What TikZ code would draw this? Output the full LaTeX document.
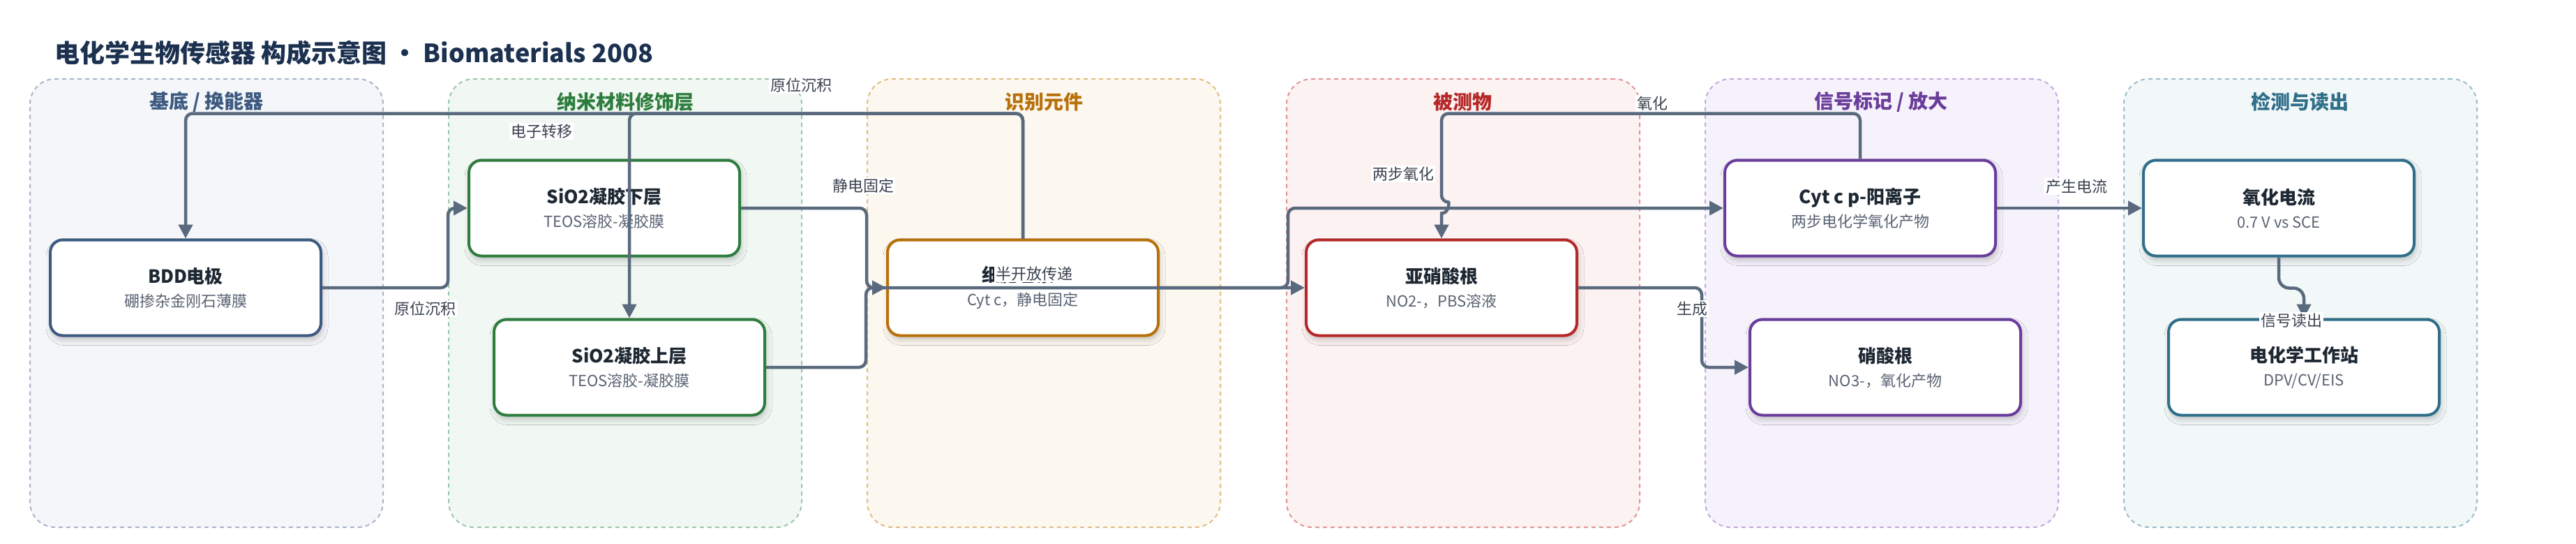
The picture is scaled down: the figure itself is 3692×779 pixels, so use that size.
\documentclass[tikz,border=0pt]{standalone}
\usepackage{fontspec}
\setmainfont{Noto Sans CJK SC}
\usetikzlibrary{arrows.meta,shadows.blur,calc}
\definecolor{titlec}{HTML}{1C3150}
\definecolor{edgec}{HTML}{5A6A7E}
\definecolor{lblc}{HTML}{3A4250}
\definecolor{ntc}{HTML}{1E2833}
\definecolor{nsc}{HTML}{5A6373}
\definecolor{cA}{HTML}{3D5A80}\definecolor{fA}{HTML}{F4F6FA}\definecolor{bA}{HTML}{AAB4C8}
\definecolor{cB}{HTML}{2E7D3E}\definecolor{fB}{HTML}{F1F8F3}\definecolor{bB}{HTML}{9CC8A8}
\definecolor{cC}{HTML}{B8700A}\definecolor{fC}{HTML}{FDF8EF}\definecolor{bC}{HTML}{E2BC80}
\definecolor{cD}{HTML}{B52828}\definecolor{fD}{HTML}{FDF2F2}\definecolor{bD}{HTML}{E29494}
\definecolor{cE}{HTML}{6A3D9A}\definecolor{fE}{HTML}{F6F2FB}\definecolor{bE}{HTML}{C2AADD}
\definecolor{cF}{HTML}{2F6F8A}\definecolor{fF}{HTML}{F2F7F8}\definecolor{bF}{HTML}{9ABDCB}
\newcommand\ntitle[1]{{\fontsize{26}{34}\selectfont\bfseries\color{ntc}#1}}
\newcommand\nsub[1]{{\color{nsc}#1}}
\begin{document}
\begin{tikzpicture}[x=1pt,y=-1pt,
  lanebox/.style={line width=2pt, dash pattern=on 6pt off 5pt, rounded corners=36pt,
    minimum width=506pt, minimum height=642pt, anchor=north west, inner sep=0pt},
  lanetitle/.style={font=\fontsize{28}{30}\selectfont\bfseries, inner sep=0pt},
  card/.style={draw, line width=4pt, fill=white, rounded corners=18pt,
    minimum width=388pt, minimum height=137pt, inner sep=0pt, align=center,
    font=\fontsize{22}{34}\selectfont,
    blur shadow={shadow xshift=2pt, shadow yshift=-6pt, shadow blur radius=8pt, shadow opacity=22}},
  edge/.style={draw=edgec, line width=4.5pt, rounded corners=10pt,
    -{Triangle[length=20pt,width=20pt]}},
  lbl/.style={fill=white, inner sep=2pt, font=\fontsize{22}{24}\selectfont, text=lblc}
]
\useasboundingbox (0,0) rectangle (3692,779);
\fill[white] (0,0) rectangle (3692,779);

% lanes
\node[lanebox, draw=bA, fill=fA] (lane1) at (42,112) {};
\node[lanebox, draw=bB, fill=fB] (lane2) at (642,112) {};
\node[lanebox, draw=bC, fill=fC] (lane3) at (1242,112) {};
\node[lanebox, draw=bD, fill=fD] (lane4) at (1843,112) {};
\node[lanebox, draw=bE, fill=fE] (lane5) at (2443,112) {};
\node[lanebox, draw=bF, fill=fF] (lane6) at (3043,112) {};

\node[lanetitle, text=cA] (t1) at (296,146) {基底 / 换能器};
\node[lanetitle, text=cB] (t2) at (896,146) {纳米材料修饰层};
\node[lanetitle, text=cC] (t3) at (1496,146) {识别元件};
\node[lanetitle, text=cD] (t4) at (2096,146) {被测物};
\node[lanetitle, text=cE] (t5) at (2696,146) {信号标记 / 放大};
\node[lanetitle, text=cF] (t6) at (3296,146) {检测与读出};

% title
\node[anchor=west, inner sep=0pt, font=\fontsize{36}{40}\selectfont\bfseries, text=titlec] (title) at (78,76)
  {电化学生物传感器 构成示意图 · Biomaterials 2008};

% nodes
\node[card, draw=cA] (bdd) at (266,412) {\ntitle{BDD电极}\\\nsub{硼掺杂金刚石薄膜}};
\node[card, draw=cB] (sioL) at (866,298) {\ntitle{SiO2凝胶下层}\\\nsub{TEOS溶胶-凝胶膜}};
\node[card, draw=cB] (sioU) at (902,526) {\ntitle{SiO2凝胶上层}\\\nsub{TEOS溶胶-凝胶膜}};
\node[card, draw=cC] (cytc) at (1466,412) {\ntitle{细胞色素c}\\\nsub{Cyt c，静电固定}};
\node[card, draw=cD] (nitrite) at (2066,412) {\ntitle{亚硝酸根}\\\nsub{NO2-，PBS溶液}};
\node[card, draw=cE] (cytcp) at (2666,298) {\ntitle{Cyt c p-阳离子}\\\nsub{两步电化学氧化产物}};
\node[card, draw=cE] (nitrate) at (2702,526) {\ntitle{硝酸根}\\\nsub{NO3-，氧化产物}};
\node[card, draw=cF] (current) at (3266,298) {\ntitle{氧化电流}\\\nsub{0.7 V vs SCE}};
\node[card, draw=cF] (station) at (3302,526) {\ntitle{电化学工作站}\\\nsub{DPV/CV/EIS}};

% edges
\draw[edge] (bdd.east) -- ++(180,0) |- (sioL.west);
\draw[edge] (sioL.east) -- ++(180,0) |- (cytc.west);
\draw[edge] (sioU.east) -- ++(143,0) |- (nitrite.west);
\draw[edge] (cytc.east) -- ++(184,0) |- (cytcp.west);
\draw[edge] (cytc.north) -- ++(0,-179) -| (bdd.north);
\draw[edge] (cytc.north) -- ++(0,-179) -| (sioU.north);
\coordinate (hopA) at ($(nitrite.north)+(0,-52)$);
\coordinate (hopB) at ($(nitrite.north)+(0,-36)$);
\draw[edge] (cytcp.north) -- ++(0,-65) -| (hopA) [sharp corners]
  .. controls ($(hopA)+(11,0)$) and ($(hopB)+(11,0)$) .. (hopB) -- (nitrite.north);
\draw[edge] (nitrite.east) -- ++(177,0) |- (nitrate.west);
\draw[edge] (cytcp.east) -- (current.west);
\draw[edge, rounded corners=15pt] (current.south) -- ++(0,44) -| (station.north);

% labels
\node[lbl] (l1) at (609,442) {原位沉积};
\node[lbl] (l2) at (1237,266) {静电固定};
\node[lbl] (l3) at (1482,392) {半开放传递};
\node[lbl] (l4) at (776,188) {电子转移};
\node[lbl] (l5) at (1148,122) {原位沉积};
\node[lbl] (l6) at (2011,249) {两步氧化};
\node[lbl] (l7) at (2368,148) {氧化};
\node[lbl] (l8) at (2976,267) {产生电流};
\node[lbl] (l9) at (2425,442) {生成};
\node[lbl] (l10) at (3284,459) {信号读出};
\end{tikzpicture}
\end{document}
